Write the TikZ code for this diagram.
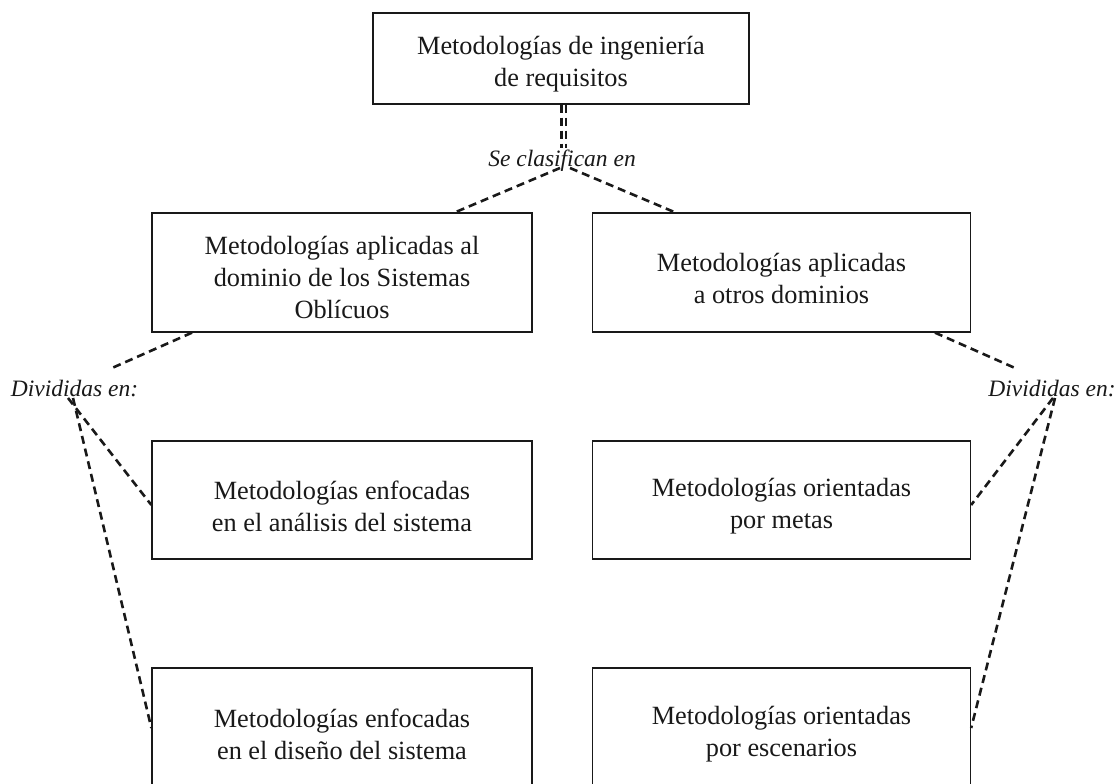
\documentclass[tikz,border=0pt]{standalone}
\usepackage{fontspec}
\setmainfont{Liberation Serif}
\begin{document}
\begin{tikzpicture}[x=1pt,y=-1pt,
  box/.style={draw=black!90, line width=1.3pt, rectangle, inner sep=0pt},
  btext/.style={inner sep=0pt, align=center, text=black!90, font=\fontsize{26.3}{32}\selectfont},
  lbl/.style={inner sep=0pt, text=black!90, font=\fontsize{23.5}{28}\selectfont\itshape},
  dl/.style={draw=black!90, line width=2.6pt, dash pattern=on 8pt off 5pt}]
\useasboundingbox (0,0) rectangle (1116,784);
\clip (0,0) rectangle (1116,784);
\fill[white] (0,0) rectangle (1116,784);
% boxes
\node[box, minimum width=376pt, minimum height=91pt] (top) at (561,58.5) {};
\node[box, minimum width=380pt, minimum height=119pt] (b2L) at (342,272.5) {};
\node[box, minimum width=378pt, minimum height=119pt] (b2R) at (781.5,272.5) {};
\node[box, minimum width=380pt, minimum height=118pt] (b3L) at (342,500) {};
\node[box, minimum width=378pt, minimum height=118pt] (b3R) at (781.5,500) {};
\node[box, minimum width=380pt, minimum height=120pt] (b4L) at (342,728) {};
\node[box, minimum width=378pt, minimum height=120pt] (b4R) at (781.5,728) {};
% box texts
\node[btext] (topt) at ([yshift=-6pt]top.center) {Metodologías de ingeniería\\de requisitos};
\node[btext] (b2Lt) at ([yshift=-5pt]b2L.center) {Metodologías aplicadas al\\dominio de los Sistemas\\Oblícuos};
\node[btext] (b2Rt) at ([yshift=-6pt]b2R.center) {Metodologías aplicadas\\a otros dominios};
\node[btext] (b3Lt) at ([yshift=-6pt]b3L.center) {Metodologías enfocadas\\en el análisis del sistema};
\node[btext] (b3Rt) at ([yshift=-6pt]b3R.center) {Metodologías orientadas\\por metas};
\node[btext] (b4Lt) at ([yshift=-6pt]b4L.center) {Metodologías enfocadas\\en el diseño del sistema};
\node[btext] (b4Rt) at ([yshift=-6pt]b4R.center) {Metodologías orientadas\\por escenarios};
% labels
\node[lbl] (sc) at (562,161) {Se clasifican en};
\node[lbl] (divL) at (74.5,389) {Divididas en:};
\node[lbl] (divR) at (1052,389) {Divididas en:};
% free ends
\coordinate (v1) at (561.5,148);
\coordinate (v2) at (566,148);
\coordinate (scL) at (560,168);
\coordinate (scR) at (570,168);
\coordinate (dLt) at (112,368);
\coordinate (dLb1) at (68,398);
\coordinate (dLb2) at (73,398);
\coordinate (dRt) at (1015,368);
\coordinate (dRb1) at (1053,398);
\coordinate (dRb2) at (1055,398);
% connectors
\draw[dl] ([xshift=0.5pt]top.south) -- (v1);
\draw[dl] ([xshift=5pt]top.south) -- (v2);
\draw[dl] (scL) -- ([xshift=113pt]b2L.north);
\draw[dl] (scR) -- ([xshift=-106.5pt]b2R.north);
\draw[dl] ([xshift=-150pt]b2L.south) -- (dLt);
\draw[dl] (dLb1) -- ([yshift=-5pt]b3L.west);
\draw[dl] (dLb2) -- ([yshift=0pt]b4L.west);
\draw[dl] ([xshift=153.5pt]b2R.south) -- (dRt);
\draw[dl] (dRb1) -- ([yshift=-5pt]b3R.east);
\draw[dl] (dRb2) -- ([yshift=0pt]b4R.east);
\end{tikzpicture}
\end{document}
